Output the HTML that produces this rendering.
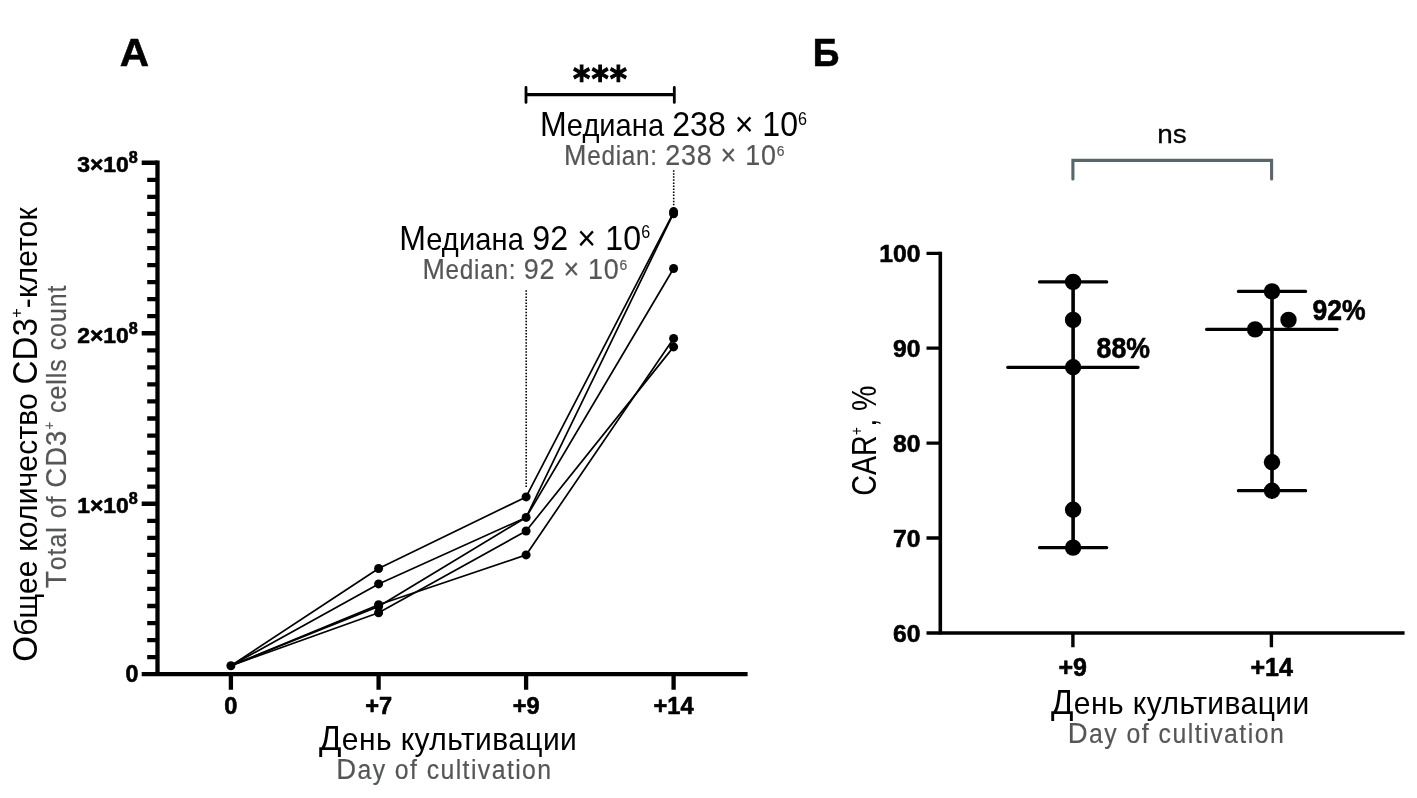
<!DOCTYPE html>
<html lang="ru"><head><meta charset="utf-8"><title>CAR-T</title>
<style>html,body{margin:0;padding:0;background:#fff}body{width:1417px;height:798px;overflow:hidden}svg{display:block}text{font-family:"Liberation Sans", sans-serif;fill:#000}.b{font-weight:bold;stroke:#000;stroke-width:.6px;stroke-linejoin:round}.g{fill:#555657;stroke:#555657;stroke-width:.2px}</style></head><body>
<svg width="1417" height="798" viewBox="0 0 1417 798">
<rect width="1417" height="798" fill="#fff"/>
<g id="left" stroke="#000" fill="none">
<path d="M157.5 160.6V675.5" stroke-width="4.3"/>
<path d="M141.7 674.2H747.6" stroke-width="4.3"/>
<path d="M141.7 503.73H157.5M141.7 333.26H157.5M141.7 162.79H157.5" stroke-width="4.6"/>
<path d="M147.2 657.15H157.5M147.2 640.11H157.5M147.2 623.06H157.5M147.2 606.01H157.5M147.2 588.97H157.5M147.2 571.92H157.5M147.2 554.87H157.5M147.2 537.82H157.5M147.2 520.78H157.5M147.2 486.68H157.5M147.2 469.64H157.5M147.2 452.59H157.5M147.2 435.54H157.5M147.2 418.50H157.5M147.2 401.45H157.5M147.2 384.40H157.5M147.2 367.35H157.5M147.2 350.31H157.5M147.2 316.21H157.5M147.2 299.17H157.5M147.2 282.12H157.5M147.2 265.07H157.5M147.2 248.03H157.5M147.2 230.98H157.5M147.2 213.93H157.5M147.2 196.88H157.5M147.2 179.84H157.5" stroke-width="4.3"/>
<path d="M230.9 674.2V689.7M378.6 674.2V689.7M526.1 674.2V689.7M673.6 674.2V689.7" stroke-width="4.3"/>
<polyline points="230.9,665.7 378.6,568.5 526.1,496.9 673.6,212.4" stroke-width="1.7" stroke-linejoin="round"/>
<polyline points="230.9,665.7 378.6,583.9 526.1,517.4 673.6,213.1" stroke-width="1.7" stroke-linejoin="round"/>
<polyline points="230.9,665.7 378.6,606.4 526.1,517.4 673.6,268.5" stroke-width="1.7" stroke-linejoin="round"/>
<polyline points="230.9,665.7 378.6,612.7 526.1,531.0 673.6,346.9" stroke-width="1.7" stroke-linejoin="round"/>
<polyline points="230.9,665.7 378.6,604.8 526.1,554.9 673.6,338.4" stroke-width="1.7" stroke-linejoin="round"/>
<path d="M526.2 290.3V487" stroke-width="1.6" stroke-dasharray="1.5 1.55"/>
<path d="M673.7 170.2V205.2" stroke-width="1.6" stroke-dasharray="1.5 1.55"/>
<path d="M526 94.6H674.3" stroke-width="3.2"/>
<path d="M526 87.4V102.4M674.3 87.4V102.4" stroke-width="2.8" stroke-linecap="round"/>
</g>
<g id="lpts" fill="#000">
<circle cx="230.9" cy="665.7" r="4.5"/>
<circle cx="378.6" cy="568.5" r="4.5"/>
<circle cx="526.1" cy="496.9" r="4.5"/>
<circle cx="378.6" cy="583.9" r="4.5"/>
<circle cx="526.1" cy="517.4" r="4.5"/>
<circle cx="378.6" cy="606.4" r="4.5"/>
<circle cx="673.6" cy="268.5" r="4.5"/>
<circle cx="378.6" cy="612.7" r="4.5"/>
<circle cx="526.1" cy="531.0" r="4.5"/>
<circle cx="673.6" cy="346.9" r="4.5"/>
<circle cx="378.6" cy="604.8" r="4.5"/>
<circle cx="526.1" cy="554.9" r="4.5"/>
<circle cx="673.6" cy="338.4" r="4.5"/>
<circle cx="673.6" cy="211.6" r="4.5"/><circle cx="673.6" cy="213.8" r="4.5"/>
</g>
<text id="tA" class="b" transform="translate(119.66 66.30) scale(1.0626 1)" font-size="38.2">A</text>
<text id="tB" class="b" transform="translate(812.69 66.40) scale(0.9714 1)" font-size="38.2">Б</text>
<text id="yl300" class="b" transform="translate(77.20 172.19)" font-size="22.9">3×10<tspan font-size="16.2" dy="-8.8">8</tspan></text>
<text id="yl200" class="b" transform="translate(77.20 342.66)" font-size="22.9">2×10<tspan font-size="16.2" dy="-8.8">8</tspan></text>
<text id="yl100" class="b" transform="translate(77.20 513.13)" font-size="22.9">1×10<tspan font-size="16.2" dy="-8.8">8</tspan></text>
<text id="yl0" class="b" transform="translate(125.40 682.20)" font-size="23.2">0</text>
<text id="xl0" class="b" transform="translate(230.90 714.00)" font-size="23.6" text-anchor="middle">0</text>
<text id="xl1" class="b" transform="translate(378.60 714.00)" font-size="23.6" text-anchor="middle">+7</text>
<text id="xl2" class="b" transform="translate(526.10 714.00)" font-size="23.6" text-anchor="middle">+9</text>
<text id="xl3" class="b" transform="translate(673.60 714.00)" font-size="23.6" text-anchor="middle">+14</text>
<text id="stars" class="b" transform="translate(600.60 90.50) scale(0.9200 1)" font-size="35.8" text-anchor="middle" style="font-family:'DejaVu Sans','Liberation Sans',sans-serif;stroke-width:1.1px;stroke-linejoin:miter" letter-spacing="1.300">***</text>
<text id="m238r" transform="translate(540.10 136.30) scale(0.9200 1)" font-size="31.6" letter-spacing="0.017"><tspan font-size="34.9">М</tspan>едиана <tspan font-size="34.9">238 × 10</tspan><tspan font-size="17.6" dy="-11.6">6</tspan></text>
<text id="m238e" class="g" transform="translate(564.00 164.70) scale(0.9000 1)" font-size="27.0" letter-spacing="0.819"><tspan font-size="29.9">M</tspan>edian: <tspan font-size="29.9">238 × 10</tspan><tspan font-size="15.4" dy="-8.8">6</tspan></text>
<text id="m92r" transform="translate(399.30 249.70) scale(0.9200 1)" font-size="31.6" letter-spacing="0.143"><tspan font-size="34.9">М</tspan>едиана <tspan font-size="34.9">92 × 10</tspan><tspan font-size="17.6" dy="-11.6">6</tspan></text>
<text id="m92e" class="g" transform="translate(422.40 278.60) scale(0.9000 1)" font-size="27.0" letter-spacing="0.833"><tspan font-size="29.9">M</tspan>edian: <tspan font-size="29.9">92 × 10</tspan><tspan font-size="15.4" dy="-8.8">6</tspan></text>
<text id="lxr" transform="translate(319.00 749.90) scale(0.9500 1)" font-size="31.6" letter-spacing="0.424"><tspan font-size="34.9">Д</tspan>ень культивации</text>
<text id="lxe" class="g" transform="translate(336.20 778.50) scale(0.9200 1)" font-size="27.0" letter-spacing="1.528"><tspan font-size="29.9">D</tspan>ay of cultivation</text>
<text id="lyr" transform="translate(36.60 661.80) rotate(-90) scale(0.9500 1)" font-size="31.6" letter-spacing="0.164"><tspan font-size="34.9">О</tspan>бщее количество <tspan font-size="34.9">CD3</tspan><tspan font-size="17" dy="-14.2">+</tspan><tspan dy="14.2">-клеток</tspan></text>
<text id="lye" class="g" transform="translate(65.60 588.00) rotate(-90) scale(0.9200 1)" font-size="27.0" letter-spacing="1.086"><tspan font-size="29.9">T</tspan>otal of <tspan font-size="29.9">CD3</tspan><tspan font-size="14.5" dy="-12">+</tspan><tspan dy="12"> cells count</tspan></text>
<g id="right" stroke="#000" fill="none">
<path d="M940.3 251.7V634.6" stroke-width="3.6"/>
<path d="M926.5 632.9H1404.6" stroke-width="3.5"/>
<path d="M926.5 253.30H940.3M926.5 348.20H940.3M926.5 443.10H940.3M926.5 538.00H940.3" stroke-width="3.3"/>
<path d="M1072.9 632.9V647.2M1271.4 632.9V647.2" stroke-width="3.4"/>
<path d="M1073.1 281.9V547.6M1272.0 291.4V490.7" stroke-width="3.6"/>
<path d="M1039.5 281.9H1106.7M1039.5 547.6H1106.7M1007.7 367.3H1138.1M1238.4 291.4H1305.6M1238.4 490.7H1305.6M1206.6 329.4H1337.0" stroke-width="3.2" stroke-linecap="round"/>
<path d="M1072.9 179V160.4H1271.6V179" stroke="#59666a" stroke-width="3.1" stroke-linecap="round" stroke-linejoin="miter"/>
</g>
<g id="rpts" fill="#000">
<circle cx="1073.1" cy="281.9" r="8.2"/>
<circle cx="1073.1" cy="319.9" r="8.2"/>
<circle cx="1073.1" cy="367.3" r="8.2"/>
<circle cx="1073.1" cy="509.7" r="8.2"/>
<circle cx="1073.1" cy="547.6" r="8.2"/>
<circle cx="1272.0" cy="291.4" r="8.2"/>
<circle cx="1288.5" cy="319.9" r="8.2"/>
<circle cx="1255.1" cy="329.4" r="8.2"/>
<circle cx="1272.0" cy="462.2" r="8.2"/>
<circle cx="1272.0" cy="490.7" r="8.2"/>
</g>
<text id="ry100" class="b" transform="translate(920.40 262.00) scale(1.0200 1)" font-size="24.2" text-anchor="end">100</text>
<text id="ry90" class="b" transform="translate(920.40 356.90) scale(1.0200 1)" font-size="24.2" text-anchor="end">90</text>
<text id="ry80" class="b" transform="translate(920.40 451.80) scale(1.0200 1)" font-size="24.2" text-anchor="end">80</text>
<text id="ry70" class="b" transform="translate(920.40 546.70) scale(1.0200 1)" font-size="24.2" text-anchor="end">70</text>
<text id="ry60" class="b" transform="translate(920.40 641.60) scale(1.0200 1)" font-size="24.2" text-anchor="end">60</text>
<text id="rx0" class="b" transform="translate(1072.70 675.90)" font-size="25.0" text-anchor="middle">+9</text>
<text id="rx1" class="b" transform="translate(1271.60 675.90)" font-size="25.0" text-anchor="middle">+14</text>
<text id="l88" class="b" transform="translate(1096.61 358.00) scale(0.9196 1)" font-size="29.0">88%</text>
<text id="l92" class="b" transform="translate(1312.47 319.70) scale(0.9085 1)" font-size="29.2">92%</text>
<text id="ns" transform="translate(1172.00 142.90) scale(1.0646 1)" font-size="26.2" text-anchor="middle" stroke="#000" stroke-width=".3">ns</text>
<text id="rxr" transform="translate(1051.00 713.80) scale(0.9500 1)" font-size="31.6" letter-spacing="0.453"><tspan font-size="34.9">Д</tspan>ень культивации</text>
<text id="rxe" class="g" transform="translate(1067.70 743.10) scale(0.9200 1)" font-size="27.0" letter-spacing="1.600"><tspan font-size="29.9">D</tspan>ay of cultivation</text>
<text id="ryt" transform="translate(876.20 495.70) rotate(-90) scale(0.8383 1)" font-size="34.2">CAR<tspan font-size="17" dy="-14.2">+</tspan><tspan dy="14.2">, %</tspan></text>
</svg></body></html>
